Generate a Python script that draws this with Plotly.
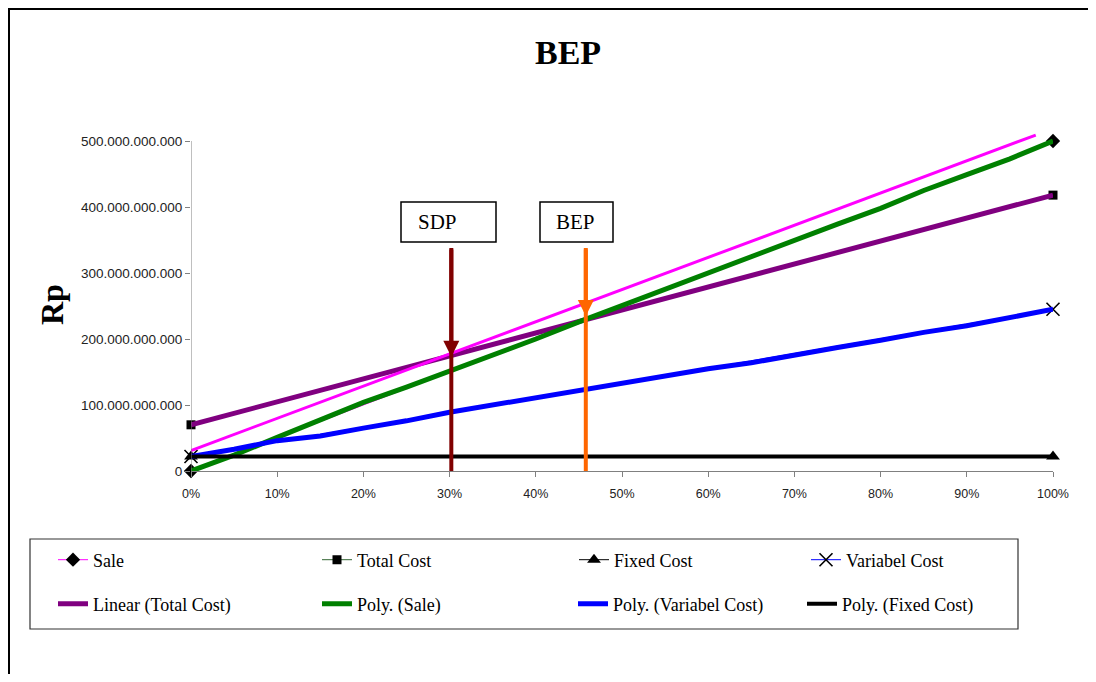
import plotly.graph_objects as go

# ---------------- data (values in Rupiah) ----------------
B = 1e9
pct_ends = [0, 100]
sale_pts = [0, 500]            # billions
total_cost_pts = [70, 418]
fixed_cost_pts = [22, 22]
variable_cost_pts = [22, 245]

pct_steps = [0, 5, 10, 15, 20, 25, 30, 35, 40, 45, 50, 55, 60, 65, 70, 75, 80, 85, 90, 95, 100]
poly_sale = [0, 24, 51, 77, 104, 127, 151, 176, 200, 226, 251, 275, 300, 325, 349, 374, 398, 425, 449, 473, 500]
poly_variable = [22, 33, 46, 53, 65, 76, 89, 100, 110, 122, 133, 144, 155, 164, 176, 187, 198, 210, 220, 232, 245]
poly_fixed = [22] * len(pct_steps)
linear_total_cost = [70, 418]

revenue_line_pct = [0, 98]
revenue_line = [31, 509]

sdp_pct = 30.2
bep_pct = 45.8
sdp_arrow_tip = 173   # billions
bep_arrow_tip = 235
arrow_top = 338

y_ticks = [0, 100, 200, 300, 400, 500]
x_ticks = [0, 10, 20, 30, 40, 50, 60, 70, 80, 90, 100]
x_tick_labels = [f"{v}%" for v in x_ticks]

def rp(vals):
    return [v * B for v in vals]

# ---------------- layout helpers ----------------
OFF = 8                      # page body margin
W, H = 1096 - 2 * OFF, 682 - 2 * OFF
L, R, T, Bm = 191 - OFF, 1096 - OFF - 1053, 108 - OFF, (682 - OFF) - 471
PW, PH = W - L - R, H - T - Bm

def px(xp):
    return (xp - OFF - L) / PW

def py(yp):
    return (H - Bm - (yp - OFF)) / PH

SERIF = "Liberation Serif, Times New Roman, serif"
SANS = "Liberation Sans, Arial, sans-serif"

fig = go.Figure()

# base series (markers at ends)
fig.add_trace(go.Scatter(x=pct_ends, y=rp(sale_pts), name="Sale", mode="lines+markers",
                         line=dict(color="#FF00FF", width=1),
                         marker=dict(symbol="diamond", size=11, color="black"),
                         cliponaxis=False, legend="legend"))
fig.add_trace(go.Scatter(x=pct_ends, y=rp(total_cost_pts), name="Total Cost", mode="lines+markers",
                         line=dict(color="#336633", width=1),
                         marker=dict(symbol="square", size=9, color="black"),
                         cliponaxis=False, legend="legend2"))
fig.add_trace(go.Scatter(x=pct_ends, y=rp(fixed_cost_pts), name="Fixed Cost", mode="lines+markers",
                         line=dict(color="black", width=1),
                         marker=dict(symbol="triangle-up", size=12, color="black"),
                         cliponaxis=False, legend="legend3"))
fig.add_trace(go.Scatter(x=pct_ends, y=rp(variable_cost_pts), name="Variabel Cost", mode="lines+markers",
                         line=dict(color="#0000FF", width=1),
                         marker=dict(symbol="x-thin", size=13, color="black",
                                     line=dict(color="black", width=1.6)),
                         cliponaxis=False, legend="legend4"))

# trendlines
fig.add_trace(go.Scatter(x=pct_ends, y=rp(linear_total_cost), name="Linear (Total Cost)", mode="lines",
                         line=dict(color="#800080", width=5), legend="legend5"))
fig.add_trace(go.Scatter(x=pct_steps, y=rp(poly_sale), name="Poly. (Sale)", mode="lines",
                         line=dict(color="#008000", width=5), legend="legend6"))
fig.add_trace(go.Scatter(x=pct_steps, y=rp(poly_variable), name="Poly. (Variabel Cost)", mode="lines",
                         line=dict(color="#0000FF", width=5), legend="legend7"))
fig.add_trace(go.Scatter(x=pct_steps, y=rp(poly_fixed), name="Poly. (Fixed Cost)", mode="lines",
                         line=dict(color="black", width=4), legend="legend8"))

# drawn revenue line (magenta)
fig.add_trace(go.Scatter(x=revenue_line_pct, y=rp(revenue_line), mode="lines", showlegend=False,
                         line=dict(color="#FF00FF", width=3)))

shapes = []
# y axis line (only up to 500 bn)
shapes.append(dict(type="line", xref="x", yref="y", x0=0, x1=0, y0=0, y1=500 * B,
                   line=dict(color="#808080", width=1)))
# SDP / BEP vertical lines
shapes.append(dict(type="line", xref="x", yref="y", x0=sdp_pct, x1=sdp_pct, y0=0, y1=arrow_top * B,
                   line=dict(color="#800000", width=4)))
shapes.append(dict(type="line", xref="x", yref="y", x0=bep_pct, x1=bep_pct, y0=0, y1=arrow_top * B,
                   line=dict(color="#FF6600", width=4)))
# label boxes
shapes.append(dict(type="rect", xref="paper", yref="paper", x0=px(401), x1=px(496), y0=py(242), y1=py(202),
                   line=dict(color="black", width=1.5), fillcolor="white"))
shapes.append(dict(type="rect", xref="paper", yref="paper", x0=px(540), x1=px(613), y0=py(242), y1=py(202),
                   line=dict(color="black", width=1.5), fillcolor="white"))
# legend box
shapes.append(dict(type="rect", xref="paper", yref="paper", x0=px(30), x1=px(1018), y0=py(629), y1=py(539),
                   line=dict(color="#333333", width=1.2)))
# outer chart border
shapes.append(dict(type="rect", xref="paper", yref="paper", x0=px(9), x1=px(1300), y0=py(900), y1=py(9),
                   line=dict(color="black", width=2)))

annotations = [
    dict(text="<b>BEP</b>", xref="paper", yref="paper", x=px(568), y=py(52), showarrow=False,
         font=dict(family=SERIF, size=34, color="black"), xanchor="center", yanchor="middle"),
    dict(text="<b>Rp</b>", xref="paper", yref="paper", x=px(52), y=py(305), showarrow=False,
         textangle=-90, font=dict(family=SERIF, size=32, color="black"), xanchor="center", yanchor="middle"),
    dict(text="SDP", xref="paper", yref="paper", x=px(416), y=py(222), showarrow=False,
         font=dict(family=SERIF, size=21, color="black"), xanchor="left", yanchor="middle"),
    dict(text="BEP", xref="paper", yref="paper", x=px(575), y=py(222), showarrow=False,
         font=dict(family=SERIF, size=21, color="black"), xanchor="center", yanchor="middle"),
    dict(text="", x=sdp_pct, y=sdp_arrow_tip * B, xref="x", yref="y", ax=sdp_pct, ay=arrow_top * B,
         axref="x", ayref="y", showarrow=True, arrowhead=2, arrowsize=0.8, arrowwidth=4,
         arrowcolor="#800000"),
    dict(text="", x=bep_pct, y=bep_arrow_tip * B, xref="x", yref="y", ax=bep_pct, ay=arrow_top * B,
         axref="x", ayref="y", showarrow=True, arrowhead=2, arrowsize=0.8, arrowwidth=4,
         arrowcolor="#FF6600"),
]

# legends: one per entry, laid out in 2 rows x 4 columns
legend_text_x = [93, 357, 614, 846, 93, 357, 613, 842]
legend_row_y = [560, 560, 560, 560, 604, 604, 604, 604]
legend_layout = {}
for i, (tx, ty) in enumerate(zip(legend_text_x, legend_row_y)):
    key = "legend" if i == 0 else f"legend{i + 1}"
    legend_layout[key] = dict(x=px(tx - 40), y=py(ty), xanchor="left", yanchor="middle",
                              bgcolor="rgba(0,0,0,0)", borderwidth=0,
                              font=dict(family=SERIF, size=18, color="black"))

fig.update_layout(
    width=W, height=H,
    margin=dict(l=L, r=R, t=T, b=Bm),
    paper_bgcolor="white", plot_bgcolor="white",
    separators=",.",
    shapes=shapes, annotations=annotations,
    showlegend=True,
    **legend_layout,
)
fig.update_xaxes(range=[0, 100], tickvals=x_ticks, ticktext=x_tick_labels, showline=True, linecolor="#808080",
                 linewidth=1, ticks="outside", ticklen=5, tickcolor="#808080", showgrid=False, zeroline=False,
                 tickfont=dict(family=SANS, size=12.5, color="#222222"), ticklabelstandoff=6, fixedrange=True)
fig.update_yaxes(range=[0, 550 * B], tickvals=rp(y_ticks), tickformat=",.0f", showline=False,
                 ticks="outside", ticklen=5, tickcolor="#808080", showgrid=False, zeroline=False,
                 tickfont=dict(family=SANS, size=13.5, color="#222222"), fixedrange=True)

fig.write_html("out.html")
